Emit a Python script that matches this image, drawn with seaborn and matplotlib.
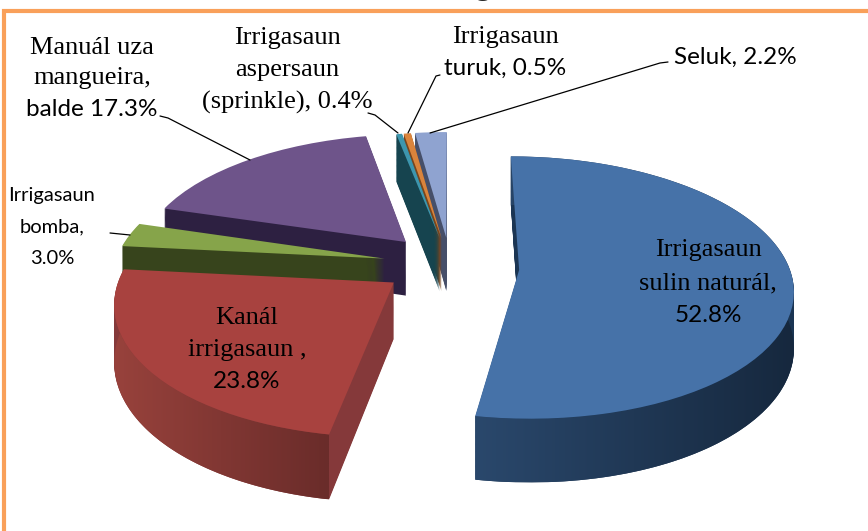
#!/usr/bin/env python3
import numpy as np
import matplotlib
matplotlib.use("Agg")
import matplotlib.pyplot as plt
from matplotlib.patches import Polygon
from matplotlib.transforms import Transform
import seaborn as sns

categories = ["Irrigasaun sulin naturál", "Kanál irrigasaun", "Irrigasaun bomba",
              "Manuál uza mangueira, balde", "Irrigasaun aspersaun (sprinkle)",
              "Irrigasaun turuk", "Seluk"]
shares = [52.8, 23.8, 3.0, 17.3, 0.4, 0.5, 2.2]

top_colors = ["#4672A8", "#A8423F", "#86A44A", "#6E548A", "#3D96AE", "#DA843C", "#8FA3D0"]
wall_colors = ["#1B3553", "#85393A", "#37441C", "#2D2041", "#16444F", "#78461E", "#464F69"]
# draw back to front
draw_order = [3, 6, 5, 4, 0, 2, 1]
# nudges per slice in pixels, the exploded slices do not sit quite evenly
nudge_x = [2, 4, 6, 5, 5, 5, 4]
nudge_y = [-3, -8, -5, -4, 0, 0, 0]

CX, CY = 447, 270
RX, RY = 270, 128
PERSP = 0.134
DEPTH = 55
SERIF = "Liberation Serif"
SANS = "Lato"


class Tilt(Transform):
    """pie plane -> picture pixels, with a bit of perspective"""
    input_dims = 2
    output_dims = 2
    is_affine = False

    def __init__(self, drop=0, dx=0, dy=0):
        super().__init__()
        self.drop = drop
        self.dx = dx
        self.dy = dy

    def transform_non_affine(self, values):
        values = np.asarray(values)
        s = 1 / (1 + PERSP * values[:, 1])
        return np.column_stack([CX + self.dx + RX * values[:, 0] * s,
                                CY + self.dy - RY * values[:, 1] * s + self.drop * s])


def make_pie(ax, colors):
    wedges, _ = ax.pie(shares, colors=colors, explode=[0.26] * len(shares), startangle=90,
                       counterclock=False, wedgeprops={"linewidth": 0})
    return wedges


def wall_gradient(ax, wedge, i, left, right, z):
    # outer wall shading, clipped to the strip under the rim
    t = np.radians(np.linspace(wedge.theta1, wedge.theta2, 120))
    rim = np.column_stack([wedge.center[0] + wedge.r * np.cos(t),
                           wedge.center[1] + wedge.r * np.sin(t)])
    upper = Tilt(0, nudge_x[i], nudge_y[i]).transform_non_affine(rim)
    lower = Tilt(DEPTH, nudge_x[i], nudge_y[i]).transform_non_affine(rim)
    outline = np.vstack([upper, lower[::-1]])
    x0, x1 = outline[:, 0].min(), outline[:, 0].max()
    y0, y1 = outline[:, 1].min(), outline[:, 1].max()
    ramp = np.linspace(0, 1, 200)[None, :, None]
    img = (1 - ramp) * np.array(left) / 255 + ramp * np.array(right) / 255
    im = ax.imshow(img, extent=[x0, x1, y1, y0], aspect="auto", zorder=z, interpolation="bilinear")
    im.set_clip_path(Polygon(outline, closed=True, transform=ax.transData))


sns.set_style("white")
fig = plt.figure(figsize=(8.68, 5.31), dpi=100)
ax = fig.add_axes([0, 0, 1, 1])

for drop in range(DEPTH, 0, -1):
    for i, w in enumerate(make_pie(ax, wall_colors)):
        w.set_transform(Tilt(drop, nudge_x[i], nudge_y[i]) + ax.transData)
        w.set_zorder(10 + 10 * draw_order.index(i))

tops = make_pie(ax, top_colors)
for i, w in enumerate(tops):
    w.set_transform(Tilt(0, nudge_x[i], nudge_y[i]) + ax.transData)
    w.set_zorder(15 + 10 * draw_order.index(i))

wall_gradient(ax, tops[0], 0, (42, 72, 108), (22, 40, 62), 12 + 10 * draw_order.index(0))
wall_gradient(ax, tops[1], 1, (152, 66, 60), (106, 44, 42), 12 + 10 * draw_order.index(1))

ax.set_aspect("auto")
ax.set_xlim(0, 868)
ax.set_ylim(531, 0)
ax.axis("off")

# orange frame
ax.plot([4, 4, 868], [531, 11, 11], color="#F9A05A", lw=3, zorder=100, solid_joinstyle="miter")

# leader lines
leaders = [([160, 168, 250], [116, 118, 160]),
           ([368, 375, 398], [113, 115, 133]),
           ([440, 436, 408], [75, 76, 133]),
           ([668, 660, 430], [62, 63, 133]),
           ([110, 130], [233, 235])]
for lx, ly in leaders:
    ax.plot(lx, ly, color="black", lw=0.9, zorder=200)

# per line: text, x, y, family, size
labels = [("Manuál uza", 92, 48, SERIF, 19), ("mangueira,", 92, 78, SERIF, 19), ("balde 17.3%", 92, 110, SANS, 17.5),
          ("Irrigasaun", 52, 195, SANS, 14.5), ("bomba,", 52, 227, SANS, 14.5), ("3.0%", 52, 258, SANS, 14.5),
          ("Irrigasaun", 287, 38, SERIF, 19), ("aspersaun", 287, 70, SERIF, 19), ("(sprinkle), 0.4%", 287, 102, SERIF, 19),
          ("Irrigasaun", 505, 37, SERIF, 19), ("turuk, 0.5%", 505, 68, SANS, 17.5),
          ("Seluk, 2.2%", 735, 57, SANS, 17.5),
          ("Kanál", 247, 318, SERIF, 19), ("irrigasaun ,", 247, 350, SERIF, 19), ("23.8%", 247, 381, SANS, 17.5),
          ("Irrigasaun", 708, 250, SERIF, 19), ("sulin naturál,", 708, 283, SERIF, 19), ("52.8%", 708, 315, SANS, 17.5)]
for txt, x, y, fam, size in labels:
    ax.text(x, y, txt, ha="center", va="center", family=fam, fontsize=size, color="black", zorder=300)

# what is left of the cut-off title
ax.text(483, -6, "g", ha="center", va="baseline", family="Liberation Sans", fontweight="bold",
        fontsize=24, zorder=300, clip_on=True)

fig.savefig("out.png", dpi=100)
